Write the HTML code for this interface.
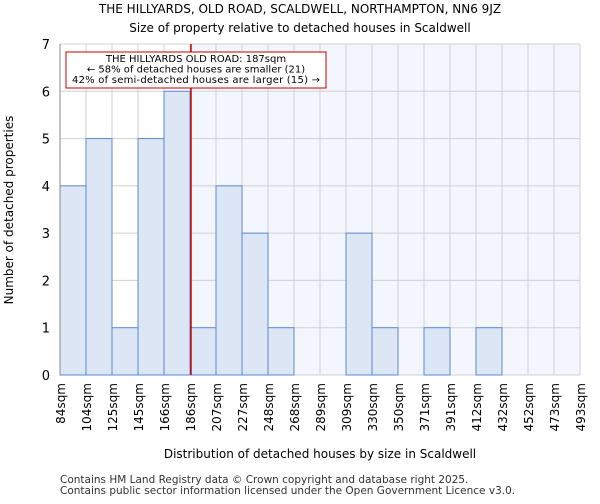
<!DOCTYPE html>
<html><head><meta charset="utf-8"><style>
body{margin:0;background:#fff;font-family:"DejaVu Sans","Liberation Sans",sans-serif}
</style></head><body>
<svg width="600" height="500" xmlns="http://www.w3.org/2000/svg" font-family="DejaVu Sans, Liberation Sans, sans-serif">
<text x="300" y="13" text-anchor="middle" font-size="12">THE HILLYARDS, OLD ROAD, SCALDWELL, NORTHAMPTON, NN6 9JZ</text>
<text x="300" y="32" text-anchor="middle" font-size="12">Size of property relative to detached houses in Scaldwell</text>
<g id="plot"></g>
<text x="320" y="458" text-anchor="middle" font-size="12">Distribution of detached houses by size in Scaldwell</text>
<text transform="translate(13,210) rotate(-90)" text-anchor="middle" font-size="12">Number of detached properties</text>
<text x="60" y="483" font-size="10.5" fill="#333">Contains HM Land Registry data © Crown copyright and database right 2025.</text>
<text x="60" y="494" font-size="10.5" fill="#333">Contains public sector information licensed under the Open Government Licence v3.0.</text>
</svg>
<script>
const binLabels=["84sqm","104sqm","125sqm","145sqm","166sqm","186sqm","207sqm","227sqm","248sqm","268sqm","289sqm","309sqm","330sqm","350sqm","371sqm","391sqm","412sqm","432sqm","452sqm","473sqm","493sqm"];
const counts=[4,5,1,5,6,1,4,3,1,0,0,3,1,0,1,0,1,0,0,0];
const yTicks=[0,1,2,3,4,5,6,7];
const propertySize=187;
const minSize=84, maxSize=493;
const NS="http://www.w3.org/2000/svg";
const X0=60,X1=580,Y0=375,Y1=44,YMAX=7;
const g=document.getElementById('plot');
const bw=(X1-X0)/counts.length;
const xb=i=>X0+i*bw;
const xs=v=>X0+(v-minSize)/(maxSize-minSize)*(X1-X0);
const y=v=>Y0-(v/YMAX)*(Y0-Y1);
function mk(t,a){const e=document.createElementNS(NS,t);for(const k in a)e.setAttribute(k,a[k]);g.appendChild(e);return e;}
const px=xs(propertySize);
let bg=mk('rect',{x:px,y:Y1,width:X1-px,height:Y0-Y1,fill:'#f3f6fc'});


for(let i=0;i<=counts.length;i++){const l=mk('line',{x1:xb(i),x2:xb(i),y1:Y1,y2:Y0,stroke:'#d0d0d0'});

}
yTicks.forEach(t=>{const l=mk('line',{x1:X0,x2:X1,y1:y(t),y2:y(t),stroke:'#d0d0d0'});


const tx=mk('text',{x:X0-10,y:y(t)+5,'text-anchor':'end','font-size':'13'});tx.textContent=t;

});
counts.forEach((c,i)=>{if(!c)return;const r=mk('rect',{x:xb(i),y:y(c),width:bw,height:Y0-y(c),fill:'#dce6f4',stroke:'#5b8bd0','stroke-width':1});

});
binLabels.forEach((s,i)=>{const tx=mk('text',{transform:`translate(${xb(i)+5},${Y0+8}) rotate(-90)`,'text-anchor':'end','font-size':'12'});tx.textContent=s;

});
const ax=mk('line',{x1:X0,x2:X0,y1:Y1,y2:Y0,stroke:'#888'});


const ln=mk('line',{x1:px,x2:px,y1:Y1,y2:Y0,stroke:'#c00000','stroke-width':1.5});


const box=mk('rect',{x:66,y:52,width:260,height:36,fill:'#fff',stroke:'#c00000'});


["THE HILLYARDS OLD ROAD: 187sqm","← 58% of detached houses are smaller (21)","42% of semi-detached houses are larger (15) →"].forEach((s,i)=>{const tx=mk('text',{x:196,y:62+i*10.5,'text-anchor':'middle','font-size':'10','textLength':i==2?'248':null});tx.textContent=s;
if(i!=2)tx.removeAttribute('textLength');

});
</script>
</body></html>
